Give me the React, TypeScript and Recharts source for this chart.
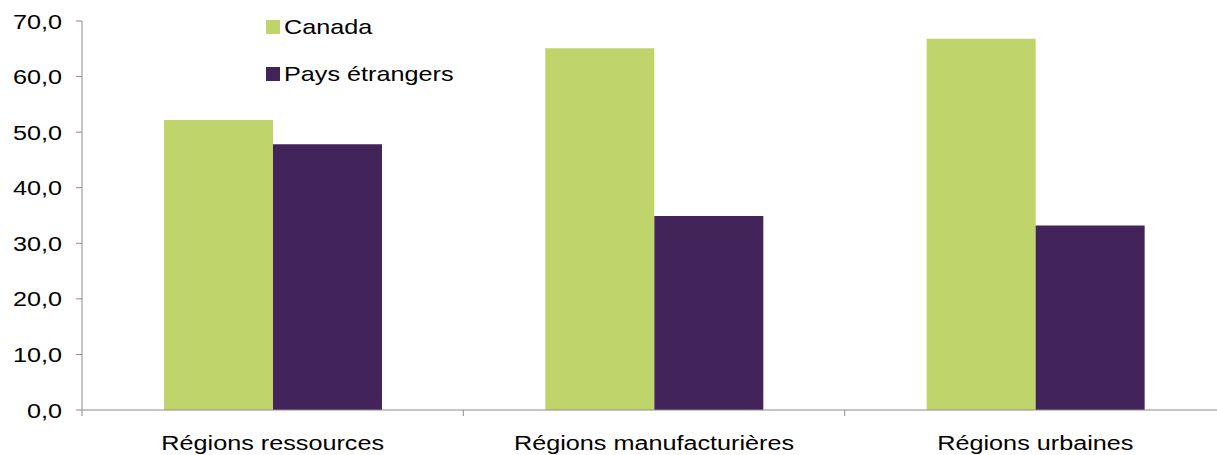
import React from 'react';
import { BarChart, Bar, XAxis, YAxis } from 'recharts';

const regions = ['Régions ressources', 'Régions manufacturières', 'Régions urbaines'];
const canada = [52.2, 65.1, 66.8];
const paysEtrangers = [47.8, 34.9, 33.2];
const yTicks = [0, 10, 20, 30, 40, 50, 60, 70];

const data = regions.map((name, i) => ({ name, canada: canada[i], pays: paysEtrangers[i] }));

const AXIS = '#8c8c8c';
const GREEN = '#bfd56b';
const PURPLE = '#42245a';
const FONT = '"Liberation Sans", Arial, sans-serif';

const fmt = (v: number) => v.toFixed(1).replace('.', ',');

const YTick = (props: any) => {
  const { x, y, payload } = props;
  return (
    <g transform={`translate(${x},${y})`}>
      <text textAnchor="end" dy="0.36em" fontSize={21} fontFamily={FONT} fill="#000" transform="scale(1.2,1)">
        {fmt(payload.value)}
      </text>
    </g>
  );
};

const XTick = (props: any) => {
  const { x, y, payload, index } = props;
  const off = payload && payload.offset ? payload.offset : 190.7;
  const axisY = y - 25;
  return (
    <g>
      <line x1={x - off} x2={x - off} y1={axisY} y2={axisY + 6} stroke={AXIS} />
      {index === regions.length - 1 && (
        <line x1={x + off} x2={x + off} y1={axisY} y2={axisY + 6} stroke={AXIS} />
      )}
      <g transform={`translate(${x},${y})`}>
        <text textAnchor="middle" dy="0.71em" fontSize={21} fontFamily={FONT} fill="#000" transform="scale(1.2,1)">
          {payload.value}
        </text>
      </g>
    </g>
  );
};

const legendItems = [
  { label: 'Canada', color: GREEN },
  { label: 'Pays étrangers', color: PURPLE },
];

const LegendBox = () => (
  <div style={{ position: 'absolute', left: 266, top: 3, width: 300, fontFamily: FONT, fontSize: 21, color: '#000' }}>
    {legendItems.map((it) => (
      <div key={it.label} style={{ display: 'flex', alignItems: 'center', height: 47 }}>
        <span style={{ width: 14, height: 14, background: it.color, display: 'inline-block', marginRight: 4 }} />
        <span style={{ display: 'inline-block', transform: 'scaleX(1.2)', transformOrigin: 'left center', whiteSpace: 'nowrap' }}>
          {it.label}
        </span>
      </div>
    ))}
  </div>
);

export default function App() {
  return (
    <div style={{ position: 'absolute', left: 0, top: 0, width: 1217, height: 455, overflow: 'hidden', background: '#fff' }}>
      <BarChart
        width={1240}
        height={455}
        data={data}
        margin={{ top: 21, right: 14, bottom: 0, left: 0 }}
        barCategoryGap="21.5%"
        barGap={0}
      >
        <XAxis
          dataKey="name"
          height={45}
          stroke={AXIS}
          tickLine={false}
          tickSize={0}
          tickMargin={25}
          tick={<XTick />}
          interval={0}
        />
        <YAxis
          width={82}
          domain={[0, 70]}
          ticks={yTicks}
          stroke={AXIS}
          tickSize={6}
          tickMargin={14}
          tick={<YTick />}
          interval={0}
        />
        <Bar dataKey="canada" name="Canada" fill={GREEN} isAnimationActive={false} />
        <Bar dataKey="pays" name="Pays étrangers" fill={PURPLE} isAnimationActive={false} />
      </BarChart>
      <LegendBox />
    </div>
  );
}
